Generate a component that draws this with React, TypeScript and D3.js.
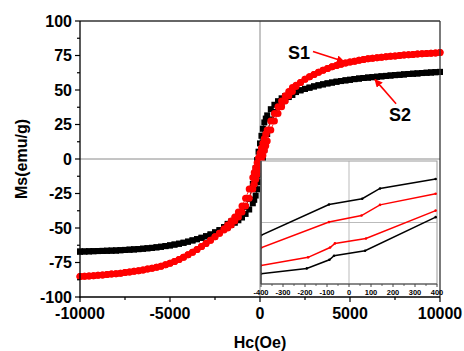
import React from 'react';
import * as d3 from 'd3';

// field steps (Oe), descending branch +10000 -> -10000
const fieldDown = [
  10000, 9750, 9500, 9250, 9000, 8750, 8500, 8250, 8000, 7750, 7500, 7250, 7000, 6750, 6500, 6250,
  6000, 5750, 5500, 5250, 5000, 4750, 4500, 4250, 4000, 3750, 3500, 3250, 3000, 2750, 2500, 2250, 2000,
  1800, 1600, 1400, 1200, 1000, 800, 600, 400,
  320, 240, 160, 80, 0, -80, -160, -240, -320,
  -400, -600, -800, -1000, -1200, -1400, -1600, -1800,
  -2000, -2250, -2500, -2750, -3000, -3250, -3500, -3750, -4000, -4250, -4500, -4750, -5000, -5250,
  -5500, -5750, -6000, -6250, -6500, -6750, -7000, -7250, -7500, -7750, -8000, -8250, -8500, -8750,
  -9000, -9250, -9500, -9750, -10000,
];
const fieldUp = [...fieldDown].reverse();

// S2 (black squares)
const s2Down = [
  63.1, 62.9, 62.7, 62.5, 62.3, 62.0, 61.8, 61.6, 61.3, 61.0, 60.8, 60.5, 60.2, 59.9, 59.6, 59.3,
  59.0, 58.7, 58.3, 57.9, 57.4, 57.0, 56.5, 56.0, 55.4, 54.8, 54.1, 53.4, 52.6, 51.7, 50.8, 49.8, 48.9,
  48.4, 47.1, 45.6, 44.0, 41.9, 39.3, 36.1, 31.6,
  29.3, 26.5, 21.9, 16.8, 11.3, 5.3, -0.8, -6.7, -12.7,
  -18.1, -28.9, -34.7, -38.3, -41.1, -43.5, -45.3, -47.0,
  -49.3, -51.6, -53.2, -54.7, -56.0, -57.1, -58.1, -59.0, -59.9, -60.7, -61.4, -62.0, -62.6, -63.1,
  -63.6, -64.0, -64.4, -64.7, -65.0, -65.3, -65.5, -65.7, -65.9, -66.1, -66.3, -66.4, -66.5, -66.6,
  -66.7, -66.8, -66.9, -67.0, -67.1,
];
const s2Up = [
  -67.1, -67.0, -66.9, -66.8, -66.7, -66.6, -66.5, -66.4, -66.3, -66.1, -65.9, -65.7, -65.5, -65.3,
  -65.0, -64.7, -64.4, -64.0, -63.6, -63.1, -62.6, -62.0, -61.4, -60.7, -59.9, -59.0, -58.1, -57.1,
  -56.0, -54.7, -53.2, -51.6, -50.0,
  -49.4, -47.8, -46.2, -44.4, -42.4, -39.8, -36.6, -32.1,
  -29.6, -26.5, -21.9, -16.8, -11.3, -5.3, 0.8, 6.7, 12.7,
  18.1, 28.6, 34.1, 37.8, 40.6, 43.0, 44.9, 46.4,
  48.5, 49.8, 50.8, 51.7, 52.6, 53.4, 54.1, 54.8, 55.4, 56.0, 56.5, 57.0, 57.4, 57.9, 58.3, 58.7,
  59.0, 59.3, 59.6, 59.9, 60.2, 60.5, 60.8, 61.0, 61.3, 61.6, 61.8, 62.0, 62.3, 62.5, 62.7, 62.9, 63.1,
];

// S1 (red circles)
const s1Down = [
  77.1, 76.9, 76.7, 76.5, 76.3, 76.0, 75.8, 75.5, 75.3, 75.0, 74.7, 74.4, 74.1, 73.8, 73.4, 73.0,
  72.6, 72.1, 71.5, 70.9, 70.2, 69.5, 68.7, 67.8, 66.8, 65.6, 64.3, 62.9, 61.3, 59.6, 57.7, 55.5, 53.4,
  51.8, 49.0, 45.8, 42.0, 37.8, 33.0, 27.5, 21.0,
  18.2, 14.9, 11.4, 7.9, 4.4, 0.9, -2.7, -6.3, -9.8,
  -13.4, -21.8, -28.5, -34.0, -38.4, -42.0, -45.0, -47.8,
  -50.6, -53.8, -56.4, -58.9, -61.2, -63.4, -65.5, -67.5, -69.4, -71.2, -72.8, -74.3, -75.6, -76.7,
  -77.7, -78.5, -79.2, -79.8, -80.4, -80.9, -81.4, -81.9, -82.3, -82.7, -83.1, -83.4, -83.7, -84.0,
  -84.3, -84.6, -84.8, -85.0, -85.2,
];
const s1Up = [
  -85.2, -85.0, -84.8, -84.6, -84.3, -84.0, -83.7, -83.4, -83.1, -82.7, -82.3, -81.9, -81.4, -80.9,
  -80.4, -79.8, -79.2, -78.5, -77.7, -76.7, -75.6, -74.3, -72.8, -71.2, -69.4, -67.5, -65.5, -63.4,
  -61.2, -58.9, -56.4, -53.8, -51.4,
  -50.0, -47.8, -45.0, -42.0, -38.4, -34.0, -28.5, -21.8,
  -18.3, -14.8, -11.3, -7.9, -4.5, -0.9, 2.6, 6.1, 9.6,
  13.1, 21.0, 27.5, 33.0, 37.8, 42.0, 45.8, 49.0,
  52.6, 55.5, 57.7, 59.6, 61.3, 62.9, 64.3, 65.6, 66.8, 67.8, 68.7, 69.5, 70.2, 70.9, 71.5, 72.1,
  72.6, 73.0, 73.4, 73.8, 74.1, 74.4, 74.7, 75.0, 75.3, 75.5, 75.8, 76.0, 76.3, 76.5, 76.7, 76.9, 77.1,
];

const xTicks = [-10000, -5000, 0, 5000, 10000];
const xMinor = [-7500, -2500, 2500, 7500];
const yTicks = [100, 75, 50, 25, 0, -25, -50, -75, -100];
const yMinor = [87.5, 62.5, 37.5, 12.5, -12.5, -37.5, -62.5, -87.5];

// inset (low field zoom)
const insetTicks = [-400, -300, -200, -100, 0, 100, 200, 300, 400];
const insetMinor = [-350, -250, -150, -50, 50, 150, 250, 350];
const insetS2Upper: [number, number][] = [[-400, -3.1], [-91, 4.4], [60, 5.8], [141, 8.3], [394, 10.6]];
const insetS1Upper: [number, number][] = [[-400, -6.2], [-91, 0.1], [57, 1.7], [141, 4.3], [394, 7.0]];
const insetS1Lower: [number, number][] = [[-400, -10.5], [-186, -8.5], [-86, -6.1], [-64, -5.1], [77, -3.9], [394, 2.9]];
const insetS2Lower: [number, number][] = [[-400, -12.5], [-192, -11.2], [-89, -9.1], [-68, -8.1], [73, -6.9], [394, 1.3]];

const FONT = "Arial, 'Liberation Sans', sans-serif";
const RED = '#ff0000';

const App: React.FC = () => {
  const x = d3.scaleLinear().domain([-10000, 10000]).range([80, 440]);
  const y = d3.scaleLinear().domain([-100, 100]).range([297, 21]);
  const ix = d3.scaleLinear().domain([-400, 400]).range([261, 437]);
  const iy = d3.scaleLinear().domain([-15, 15]).range([284, 161]);

  const line = d3.line<[number, number]>().x(d => x(d[0])).y(d => y(d[1]));
  const iline = d3.line<[number, number]>().x(d => ix(d[0])).y(d => iy(d[1]));

  const loop = (down: number[], up: number[]): [number, number][] => [
    ...fieldDown.map((h, i) => [h, down[i]] as [number, number]),
    ...fieldUp.map((h, i) => [h, up[i]] as [number, number]),
  ];
  const s2 = loop(s2Down, s2Up);
  const s1 = loop(s1Down, s1Up);

  const insetSeries = [
    { pts: insetS2Upper, color: '#000' },
    { pts: insetS1Upper, color: RED },
    { pts: insetS1Lower, color: RED },
    { pts: insetS2Lower, color: '#000' },
  ];

  return (
    <svg width={464} height={351} style={{ position: 'absolute', left: 0, top: 0, background: '#fff' }}>
      <defs>
        <marker id="arr" viewBox="0 0 10 10" refX="9" refY="5" markerWidth="5" markerHeight="5" orient="auto">
          <path d="M0,0 L10,5 L0,10 z" fill={RED} />
        </marker>
        <clipPath id="insetClip">
          <rect x={261} y={161} width={176} height={123} />
        </clipPath>
      </defs>

      {/* zero lines */}
      <line x1={x(0)} x2={x(0)} y1={21} y2={297} stroke="#8a8a8a" strokeWidth={1} />
      <line x1={80} x2={440} y1={y(0)} y2={y(0)} stroke="#8a8a8a" strokeWidth={1} />

      {/* S2 */}
      <path d={line(s2) || ''} fill="none" stroke="#000" strokeWidth={0.8} />
      {s2.map((d, i) => (
        <rect key={'b' + i} x={x(d[0]) - 3} y={y(d[1]) - 3} width={6} height={6} fill="#000" />
      ))}
      {/* S1 */}
      <path d={line(s1) || ''} fill="none" stroke={RED} strokeWidth={0.8} />
      {s1.map((d, i) => (
        <circle key={'r' + i} cx={x(d[0])} cy={y(d[1])} r={3.5} fill={RED} />
      ))}

      {/* frame */}
      <line x1={80} x2={440} y1={21} y2={21} stroke="#333" strokeWidth={1.3} />
      <line x1={440} x2={440} y1={21} y2={297} stroke="#333" strokeWidth={1.3} />
      <line x1={80} x2={80} y1={21} y2={297.6} stroke="#000" strokeWidth={1.3} />
      <line x1={79.4} x2={440} y1={297} y2={297} stroke="#000" strokeWidth={1.3} />

      {/* y axis ticks */}
      {yTicks.map(t => (
        <g key={'yt' + t}>
          <line x1={75} x2={80} y1={y(t)} y2={y(t)} stroke="#000" strokeWidth={1.2} />
          <text x={72} y={y(t)} dy="0.35em" textAnchor="end" fontFamily={FONT} fontWeight="bold" fontSize={16}>
            {t}
          </text>
        </g>
      ))}
      {yMinor.map(t => (
        <line key={'ym' + t} x1={77} x2={80} y1={y(t)} y2={y(t)} stroke="#000" strokeWidth={1.2} />
      ))}
      {/* x axis ticks */}
      {xTicks.map(t => (
        <g key={'xt' + t}>
          <line x1={x(t)} x2={x(t)} y1={297} y2={302} stroke="#000" strokeWidth={1.2} />
          <text x={x(t)} y={319} textAnchor="middle" fontFamily={FONT} fontWeight="bold" fontSize={16}>
            {t}
          </text>
        </g>
      ))}
      {xMinor.map(t => (
        <line key={'xm' + t} x1={x(t)} x2={x(t)} y1={297} y2={300} stroke="#000" strokeWidth={1.2} />
      ))}

      <text x={260} y={348} textAnchor="middle" fontFamily={FONT} fontWeight="bold" fontSize={16}>
        Hc(Oe)
      </text>
      <text
        transform="translate(27,159) rotate(-90)"
        textAnchor="middle"
        fontFamily={FONT}
        fontWeight="bold"
        fontSize={16}
      >
        Ms(emu/g)
      </text>

      {/* annotations */}
      <text x={x(2170)} y={y(77)} dy="0.35em" textAnchor="middle" fontFamily={FONT} fontWeight="bold" fontSize={18}>
        S1
      </text>
      <line x1={x(2944)} y1={y(77.9)} x2={x(4667)} y2={y(70.6)} stroke={RED} strokeWidth={1.6} markerEnd="url(#arr)" />
      <text x={x(7780)} y={y(32)} dy="0.35em" textAnchor="middle" fontFamily={FONT} fontWeight="bold" fontSize={18}>
        S2
      </text>
      <line x1={x(7560)} y1={y(40)} x2={x(6390)} y2={y(57.5)} stroke={RED} strokeWidth={1.6} markerEnd="url(#arr)" />

      {/* inset */}
      <rect x={261} y={161} width={176} height={123} fill="#fff" stroke="#999" strokeWidth={1} />
      <line x1={ix(0)} x2={ix(0)} y1={161} y2={284} stroke="#aaa" strokeWidth={0.8} />
      <line x1={261} x2={437} y1={iy(0)} y2={iy(0)} stroke="#aaa" strokeWidth={0.8} />
      <g clipPath="url(#insetClip)">
        {insetSeries.map((s, k) => (
          <g key={'is' + k}>
            <path d={iline(s.pts) || ''} fill="none" stroke={s.color} strokeWidth={1.5} />
            {s.pts.map((d, i) => (
              <circle key={i} cx={ix(d[0])} cy={iy(d[1])} r={1.3} fill={s.color} />
            ))}
          </g>
        ))}
      </g>
      <line x1={261} x2={261} y1={161} y2={284} stroke="#444" strokeWidth={1.5} />
      <line x1={261} x2={437} y1={284} y2={284} stroke="#444" strokeWidth={1.2} />
      {insetTicks.map(t => (
        <g key={'it' + t}>
          <line x1={ix(t)} x2={ix(t)} y1={284} y2={287} stroke="#444" strokeWidth={1} />
          <text x={ix(t)} y={295} textAnchor="middle" fontFamily={FONT} fontWeight="bold" fontSize={7.5}>
            {t}
          </text>
        </g>
      ))}
      {insetMinor.map(t => (
        <line key={'im' + t} x1={ix(t)} x2={ix(t)} y1={284} y2={286} stroke="#444" strokeWidth={0.8} />
      ))}
    </svg>
  );
};

export default App;
